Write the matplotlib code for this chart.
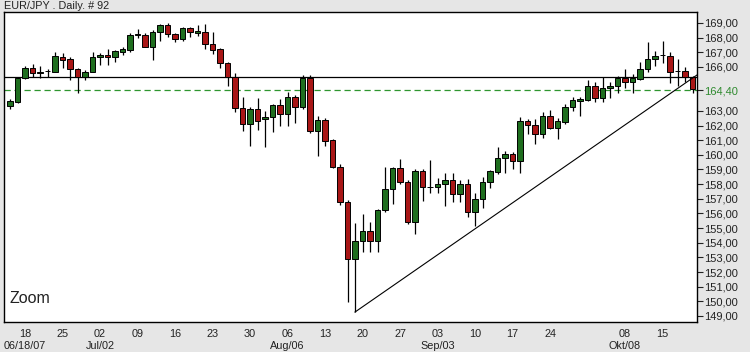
import matplotlib
matplotlib.use("Agg")
import matplotlib.pyplot as plt
from matplotlib.ticker import FuncFormatter
import numpy as np
import pandas as pd

# EUR/JPY daily, 92 bars, 14 Jun 2007 - 19 Oct 2007
dates = pd.bdate_range("2007-06-14", "2007-10-19")

opens = [163.33, 163.61, 165.25, 165.93, 165.62, 165.70, 165.66, 166.68, 166.54, 165.86,
         165.31, 165.66, 166.68, 166.82, 166.68, 167.00, 167.15, 168.20, 168.18, 167.36,
         168.38, 168.86, 168.25, 167.90, 168.66, 168.35, 168.39, 167.57, 167.20, 166.27,
         165.31, 163.20, 162.10, 163.13, 162.45, 162.58, 163.40, 162.79, 163.95, 163.27,
         165.25, 161.63, 162.38, 161.00, 159.17, 156.78, 152.89, 154.12, 154.80, 154.12,
         156.24, 157.67, 159.10, 158.15, 155.42, 158.90, 157.78, 157.80, 158.00, 158.28,
         157.33, 158.00, 156.10, 156.99, 158.15, 158.83, 159.80, 160.05, 159.60, 162.31,
         162.04, 161.42, 162.65, 161.83, 162.24, 163.27, 163.70, 163.75, 164.70, 163.88,
         164.56, 164.70, 165.25, 164.97, 165.18, 165.86, 166.54, 166.80, 166.75, 165.74,
         165.72, 165.31]
highs = [163.81, 165.30, 166.06, 166.20, 166.06, 165.86, 167.02, 166.95, 166.68, 165.90,
         165.80, 167.00, 166.95, 167.20, 167.16, 167.36, 168.30, 168.60, 168.32, 168.50,
         168.93, 169.00, 168.32, 168.73, 168.73, 168.86, 168.93, 168.39, 167.29, 166.34,
         165.60, 163.95, 163.25, 163.88, 163.00, 163.47, 163.80, 164.29, 164.09, 165.45,
         165.45, 162.65, 162.50, 161.10, 159.40, 156.90, 155.35, 155.96, 155.42, 156.30,
         159.17, 159.17, 159.72, 158.30, 159.00, 159.00, 159.65, 158.40, 158.75, 158.75,
         158.30, 158.35, 157.40, 158.50, 158.97, 160.54, 160.26, 160.19, 162.58, 162.45,
         162.45, 162.93, 163.06, 162.50, 163.47, 163.95, 163.95, 165.10, 164.97, 165.30,
         164.97, 165.40, 165.86, 165.50, 166.34, 167.70, 167.09, 167.77, 167.02, 166.54,
         165.99, 165.35]
lows = [163.13, 163.54, 165.18, 165.30, 165.25, 165.31, 165.66, 165.93, 165.10, 164.22,
        165.10, 165.66, 166.13, 166.13, 166.34, 166.81, 167.00, 167.97, 167.36, 166.47,
        167.77, 168.04, 167.70, 167.77, 168.04, 168.11, 167.20, 166.88, 165.93, 164.70,
        162.90, 161.63, 160.60, 161.70, 160.55, 161.56, 162.00, 162.00, 162.17, 163.13,
        161.50, 159.90, 160.60, 159.10, 156.60, 149.96, 149.27, 153.37, 153.37, 153.37,
        156.10, 156.64, 158.00, 155.30, 154.60, 156.85, 157.40, 157.40, 156.50, 156.78,
        156.80, 155.75, 155.15, 156.37, 157.74, 158.70, 158.76, 159.00, 158.76, 161.42,
        160.74, 161.15, 161.76, 161.10, 162.10, 162.99, 162.65, 163.68, 163.60, 163.60,
        163.88, 164.22, 164.56, 164.22, 165.10, 165.66, 166.06, 166.27, 164.90, 164.70,
        164.97, 164.22]
closes = [163.68, 165.25, 165.93, 165.59, 165.68, 165.75, 166.75, 166.47, 165.86, 165.31,
          165.66, 166.68, 166.82, 166.68, 167.09, 167.20, 168.18, 168.28, 167.36, 168.38,
          168.86, 168.25, 167.90, 168.66, 168.39, 168.42, 167.57, 167.16, 166.27, 165.31,
          163.20, 162.10, 163.13, 162.31, 162.58, 163.40, 162.79, 163.95, 163.27, 165.25,
          161.63, 162.38, 160.95, 159.17, 156.78, 152.89, 154.12, 154.80, 154.12, 156.24,
          157.67, 159.10, 158.15, 155.42, 158.90, 157.80, 157.82, 158.00, 158.28, 157.33,
          158.00, 156.10, 156.99, 158.15, 158.90, 159.79, 160.05, 159.60, 162.31, 162.04,
          161.42, 162.65, 161.83, 162.31, 163.27, 163.75, 163.82, 164.70, 163.88, 164.56,
          164.70, 165.25, 164.97, 165.25, 165.86, 166.54, 166.75, 166.84, 165.66, 165.70,
          165.31, 164.49]

resistance = 165.31
marker_level = 164.40
trend_x = [46, 91.6]
trend_y = [149.27, 165.45]

month_labels = {"2007-06-18": "06/18/07", "2007-07-02": "Jul/02", "2007-08-06": "Aug/06",
                "2007-09-03": "Sep/03", "2007-10-08": "Okt/08"}
skip_ticks = ["2007-10-01"]

green = "#1f6e1f"
red = "#a81616"
bg = "#e6e6e6"
fam = ["Liberation Sans", "DejaVu Sans"]

o = np.array(opens)
h = np.array(highs)
l = np.array(lows)
c = np.array(closes)
x = np.arange(len(dates))

fig = plt.figure(figsize=(7.5, 3.52), dpi=100, facecolor=bg)
ax = fig.add_axes([4 / 750, 30 / 352, 693 / 750, 310 / 352])
ax.set_facecolor("white")

# wicks then bodies
ax.vlines(x, l, h, color="black", linewidth=0.9, zorder=2)
up = c >= o
body_lo = np.minimum(o, c)
body_h = np.maximum(np.abs(c - o), 0.02)
ax.bar(x, body_h, bottom=body_lo, width=0.76, color=np.where(up, green, red),
       edgecolor="black", linewidth=0.7, zorder=3)

ax.axhline(resistance, color="black", linewidth=0.9, zorder=1)
ax.axhline(marker_level, color="#2f962f", linewidth=0.9, dashes=(5, 3), zorder=1)
ax.plot(trend_x, trend_y, color="black", linewidth=0.8, zorder=4)

ax.set_xlim(-0.8, 91.6)
ax.set_ylim(148.59, 169.75)

# y axis on the right
yt = list(range(149, 164)) + [marker_level] + list(range(166, 170))
ax.yaxis.tick_right()
ax.set_yticks(yt)
ax.yaxis.set_major_formatter(FuncFormatter(lambda v, p: ("%.2f" % v).replace(".", ",")))
ax.tick_params(axis="y", length=4, width=0.8, pad=1, labelsize=8, colors="#222222")
for t in ax.get_yticklabels():
    if abs(t.get_position()[1] - marker_level) < 0.01:
        t.set_color("#2f8a2f")

# x ticks on Mondays
xt = []
xl = []
for i, d in enumerate(dates):
    ds = d.strftime("%Y-%m-%d")
    if d.weekday() == 0 and ds not in skip_ticks:
        xt.append(i)
        lab = d.strftime("%d")
        if ds in month_labels:
            lab = lab + "\n" + month_labels[ds]
        xl.append(lab)
ax.set_xticks(xt)
ax.set_xticklabels(xl, va="top", linespacing=1.25)
ax.tick_params(axis="x", length=0, pad=5, labelsize=7.8, colors="#222222")

for s in ax.spines.values():
    s.set_color("black")
    s.set_linewidth(1)

for t in ax.get_xticklabels() + ax.get_yticklabels():
    t.set_family(fam)

fig.text(4 / 750, 1 - 6 / 352, "EUR/JPY . Daily. # 92", fontsize=7.8, va="center", ha="left",
         color="#222222", family=fam)
ax.text(0.008, 0.076, "Zoom", transform=ax.transAxes, fontsize=11.5, color="#222222",
        family=fam, ha="left", va="center")

fig.savefig("out.png", dpi=100, facecolor=bg)
